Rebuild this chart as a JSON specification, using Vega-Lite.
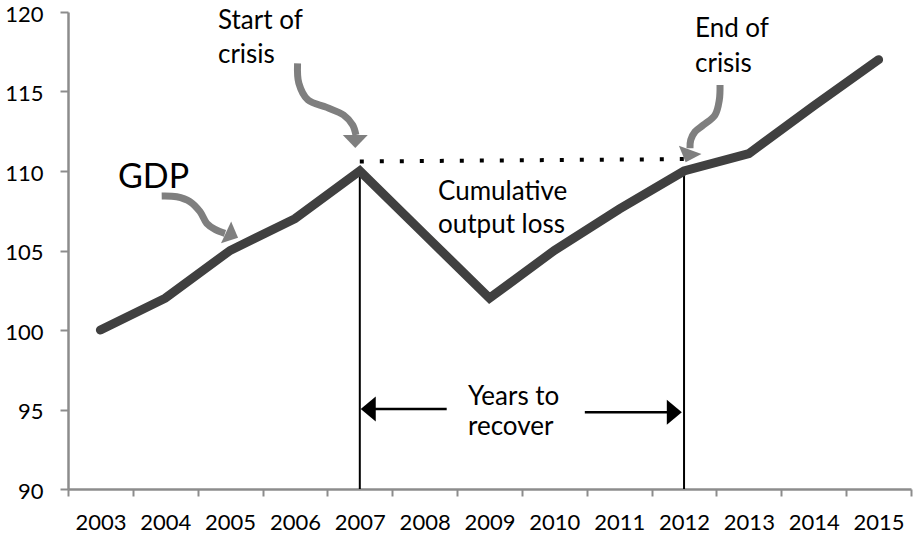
{
  "$schema": "https://vega.github.io/schema/vega-lite/v6.json",
  "autosize": "none",
  "width": 843,
  "height": 477,
  "padding": {"left": 68, "top": 12, "right": 8, "bottom": 46},
  "background": "white",
  "config": {"view": {"stroke": null}, "font": "Lato"},
  "datasets": {
    "gdp": [
      {"year": 2003, "value": 100}, {"year": 2004, "value": 102}, {"year": 2005, "value": 105},
      {"year": 2006, "value": 107}, {"year": 2007, "value": 110}, {"year": 2008, "value": 106},
      {"year": 2009, "value": 102}, {"year": 2010, "value": 105}, {"year": 2011, "value": 107.6},
      {"year": 2012, "value": 110}, {"year": 2013, "value": 111.1}, {"year": 2014, "value": 114.1},
      {"year": 2015, "value": 117}
    ],
    "pointers": [
      {"id": "start", "step": 1, "year": 2006.04, "value": 116.77},
      {"id": "start", "step": 2, "year": 2006.06, "value": 115.52},
      {"id": "start", "step": 3, "year": 2006.20, "value": 114.47},
      {"id": "start", "step": 4, "year": 2006.49, "value": 114.0},
      {"id": "start", "step": 5, "year": 2006.75, "value": 113.52},
      {"id": "start", "step": 6, "year": 2006.89, "value": 112.89},
      {"id": "start", "step": 7, "year": 2006.94, "value": 112.26},
      {"id": "end", "step": 1, "year": 2012.555, "value": 115.41},
      {"id": "end", "step": 2, "year": 2012.544, "value": 114.47},
      {"id": "end", "step": 3, "year": 2012.477, "value": 113.52},
      {"id": "end", "step": 4, "year": 2012.297, "value": 112.89},
      {"id": "end", "step": 5, "year": 2012.169, "value": 112.47},
      {"id": "end", "step": 6, "year": 2012.103, "value": 111.95},
      {"id": "end", "step": 7, "year": 2012.092, "value": 111.43},
      {"id": "gdp", "step": 1, "year": 2003.945, "value": 108.43},
      {"id": "gdp", "step": 2, "year": 2004.177, "value": 108.38},
      {"id": "gdp", "step": 3, "year": 2004.382, "value": 108.07},
      {"id": "gdp", "step": 4, "year": 2004.536, "value": 107.44},
      {"id": "gdp", "step": 5, "year": 2004.639, "value": 106.71},
      {"id": "gdp", "step": 6, "year": 2004.767, "value": 106.33},
      {"id": "gdp", "step": 7, "year": 2004.921, "value": 106.08}
    ],
    "heads": [
      {"id": "start", "year": 2006.93, "value": 111.86},
      {"id": "end", "year": 2012.06, "value": 110.94},
      {"id": "gdp", "year": 2005.03, "value": 105.97},
      {"id": "left", "year": 2007.13, "value": 95.03},
      {"id": "right", "year": 2011.85, "value": 94.82}
    ],
    "loss": [
      {"year": 2007, "value": 110.6}, {"year": 2012.03, "value": 110.75}
    ],
    "crisis": [
      {"year": 2007, "value": 110, "value2": 90},
      {"year": 2012, "value": 110, "value2": 90}
    ],
    "span": [
      {"year": 2007.1, "year2": 2008.34, "value": 95.03},
      {"year": 2010.47, "year2": 2011.8, "value": 94.82}
    ],
    "notes": [
      {"text": "Start of", "year": 2004.813, "value": 118.91},
      {"text": "crisis", "year": 2004.813, "value": 116.77},
      {"text": "End of", "year": 2012.169, "value": 118.45},
      {"text": "crisis", "year": 2012.169, "value": 116.25},
      {"text": "Cumulative", "year": 2008.206, "value": 108.18},
      {"text": "output loss", "year": 2008.206, "value": 106.10},
      {"text": "Years to", "year": 2008.668, "value": 95.28},
      {"text": "recover", "year": 2008.668, "value": 93.40}
    ],
    "title": [
      {"text": "GDP", "year": 2003.271, "value": 108.93}
    ]
  },
  "encoding": {
    "x": {
      "field": "year", "type": "quantitative",
      "scale": {"domain": [2002.5, 2015.5], "nice": false, "zero": false},
      "axis": {
        "title": null, "grid": false,
        "values": [2002.5, 2003.5, 2004.5, 2005.5, 2006.5, 2007.5, 2008.5, 2009.5, 2010.5, 2011.5, 2012.5, 2013.5, 2014.5, 2015.5],
        "labelExpr": "datum.value > 2015 ? '' : format(datum.value + 0.5, 'd')",
        "labelOffset": 32.4, "labelOverlap": false, "labelBound": false, "labelFlush": false,
        "tickSize": 7, "tickWidth": 2, "tickColor": "#8c8c8c",
        "domainColor": "#8c8c8c", "domainWidth": 2.5,
        "labelFont": "Lato", "labelFontSize": 22, "labelColor": "black", "labelPadding": 16
      }
    },
    "y": {
      "field": "value", "type": "quantitative",
      "scale": {"domain": [90, 120], "nice": false, "zero": false},
      "axis": {
        "title": null, "grid": false,
        "values": [90, 95, 100, 105, 110, 115, 120],
        "tickSize": 8, "tickWidth": 2, "tickColor": "#8c8c8c",
        "domainColor": "#8c8c8c", "domainWidth": 2.5,
        "labelFont": "Lato", "labelFontSize": 22, "labelColor": "black", "labelPadding": 17,
        "labelOffset": 2
      }
    }
  },
  "layer": [
    {
      "data": {"name": "crisis"},
      "mark": {"type": "rule", "color": "black", "strokeWidth": 2},
      "encoding": {"y2": {"field": "value2"}}
    },
    {
      "data": {"name": "loss"},
      "mark": {"type": "line", "color": "black", "strokeWidth": 4, "strokeDash": [4, 16], "strokeCap": "butt"},
      "encoding": {}
    },
    {
      "data": {"name": "gdp"},
      "mark": {"type": "line", "color": "#404040", "strokeWidth": 9, "strokeCap": "round", "strokeJoin": "miter"},
      "encoding": {}
    },
    {
      "data": {"name": "span"},
      "mark": {"type": "rule", "color": "black", "strokeWidth": 2.5},
      "encoding": {"x2": {"field": "year2"}}
    },
    {
      "data": {"name": "pointers"},
      "mark": {"type": "line", "color": "#7f7f7f", "strokeWidth": 7, "interpolate": "catmull-rom", "strokeCap": "butt"},
      "encoding": {"detail": {"field": "id"}, "order": {"field": "step", "type": "quantitative"}}
    },
    {
      "data": {"name": "heads"},
      "transform": [{"filter": "datum.id == 'start'"}],
      "mark": {"type": "point", "filled": true, "color": "#7f7f7f", "opacity": 1, "size": 625, "shape": "M-1,-0.52L1,-0.52L0,0.52Z"},
      "encoding": {}
    },
    {
      "data": {"name": "heads"},
      "transform": [{"filter": "datum.id == 'end'"}],
      "mark": {"type": "point", "filled": true, "color": "#7f7f7f", "opacity": 1, "size": 576, "shape": "M-1,-0.55L1,-0.55L0,0.55Z", "angle": 20},
      "encoding": {}
    },
    {
      "data": {"name": "heads"},
      "transform": [{"filter": "datum.id == 'gdp'"}],
      "mark": {"type": "point", "filled": true, "color": "#7f7f7f", "opacity": 1, "size": 576, "shape": "M-1,-0.55L1,-0.55L0,0.55Z", "angle": -65},
      "encoding": {}
    },
    {
      "data": {"name": "heads"},
      "transform": [{"filter": "datum.id == 'left'"}],
      "mark": {"type": "point", "filled": true, "color": "black", "opacity": 1, "size": 625, "shape": "M-0.6,0L0.6,-1L0.6,1Z"},
      "encoding": {}
    },
    {
      "data": {"name": "heads"},
      "transform": [{"filter": "datum.id == 'right'"}],
      "mark": {"type": "point", "filled": true, "color": "black", "opacity": 1, "size": 625, "shape": "M0.6,0L-0.6,-1L-0.6,1Z"},
      "encoding": {}
    },
    {
      "data": {"name": "notes"},
      "mark": {"type": "text", "align": "left", "baseline": "alphabetic", "font": "Lato", "fontSize": 26, "color": "black"},
      "encoding": {"text": {"field": "text"}}
    },
    {
      "data": {"name": "title"},
      "mark": {"type": "text", "align": "left", "baseline": "alphabetic", "font": "Lato", "fontSize": 34, "color": "black"},
      "encoding": {"text": {"field": "text"}}
    }
  ]
}
